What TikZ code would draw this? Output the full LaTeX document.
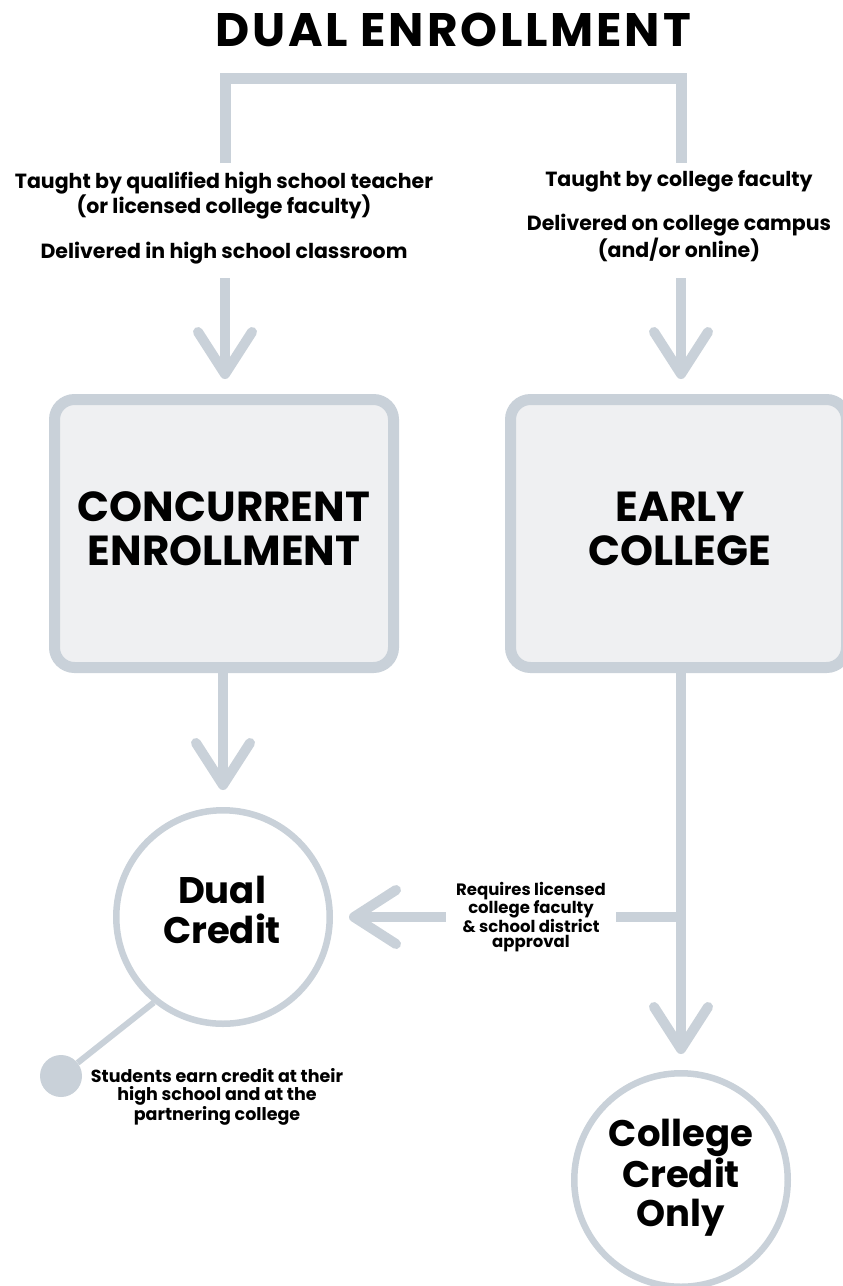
\documentclass[tikz,border=0pt]{standalone}
\usepackage{fontspec}
\setmainfont{Poppins}
\usetikzlibrary{arrows.meta}
\definecolor{lg}{HTML}{C9D1D9}
\definecolor{boxfill}{HTML}{EFF0F2}
\begin{document}
\begin{tikzpicture}[x=1pt,y=-1pt,
  conn/.style={draw=lg, line width=11pt, line cap=butt, line join=miter},
  arr/.style={draw=lg, line width=10pt, line cap=butt,
    -{Straight Barb[length=42pt,width=54pt,line width=10pt,round]}},
  lab/.style={font=\bfseries\fontsize{20.5}{22}\selectfont, align=center, inner sep=0pt},
  box/.style={draw=lg, fill=boxfill, line width=11pt, rounded corners=20pt, inner sep=0pt},
  boxtext/.style={font=\bfseries\fontsize{42}{44}\selectfont, align=center, inner sep=0pt},
  credit/.style={circle, draw=lg, fill=white, line width=6.5pt, minimum size=213.5pt, inner sep=0pt},
  credtext/.style={font=\bfseries\fontsize{37}{39.5}\selectfont, align=center, inner sep=0pt},
  small/.style={font=\bfseries\fontsize{16.5}{15.5}\selectfont, align=center},
  dotst/.style={circle, fill=lg, minimum size=42pt, inner sep=0pt},
  title/.style={font=\bfseries\fontsize{47}{50}\selectfont\addfontfeatures{LetterSpace=6}, inner sep=0pt}
]
\fill[white] (0,0) rectangle (843,1286);
\useasboundingbox (0,0) rectangle (843,1286);

\node[title] (title) at (453,30) {DUAL ENROLLMENT};

% bracket
\coordinate (brL) at (225,163);
\coordinate (brR) at (681,163);
\coordinate (brT) at (453,78);
\draw[conn] (brL) -- (brL |- brT) -- (brR |- brT) -- (brR);

% top labels (base = baseline of last line)
\node[lab, anchor=base] (labL) at (224,258) {Taught by qualified high school teacher\\(or licensed college faculty)\\[21pt]Delivered in high school classroom};
\node[lab, anchor=base] (labR) at (679,257) {Taught by college faculty\\[21pt]Delivered on college campus\\(and/or online)};

\coordinate (a1) at (225,278);
\coordinate (a2) at (681,278);
\coordinate (junc) at (681,917);

% boxes
\node[box, minimum width=339pt, minimum height=268pt] (ce) at (224,533.5) {};
\node[box, minimum width=336pt, minimum height=268pt] (ec) at (678.5,533.5) {};
\node[boxtext] (ceT) at (224,529) {CONCURRENT\\ENROLLMENT};
\node[boxtext] (ecT) at (680,529) {EARLY\\COLLEGE};

\draw[arr, shorten >=15pt] (a1) -- (a1 |- ce.north);
\draw[arr, shorten >=15pt] (a2) -- (a2 |- ec.north);

% circles
\node[credit] (dc) at (223,917) {};
\node[credtext] (dcT) at (222,910) {Dual\\Credit};
\node[credit] (cco) at (681,1180) {};
\node[credtext] (ccoT) at (681,1178) {College\\Credit\\Only};

\draw[arr, shorten >=17pt] (ce.south -| dc) -- (dc.north);
\draw[arr, shorten >=16pt] (ec.south -| junc) -- (cco.north);

\node[small, inner xsep=10pt, inner ysep=2pt] (req) at (531,917) {Requires licensed\\college faculty\\\& school district\\approval};
\draw[draw=lg, line width=10pt] (junc) -- (req.east);
\draw[arr, shorten >=16pt] (req.west) -- (dc.east);

\node[dotst] (dot) at (61,1076) {};
\draw[draw=lg, line width=6pt] (dc.231) -- (dot);
\node[small, font=\bfseries\fontsize{17.5}{18.3}\selectfont] (stu) at (217,1097) {Students earn credit at their\\high school and at the\\partnering college};
\end{tikzpicture}
\end{document}
